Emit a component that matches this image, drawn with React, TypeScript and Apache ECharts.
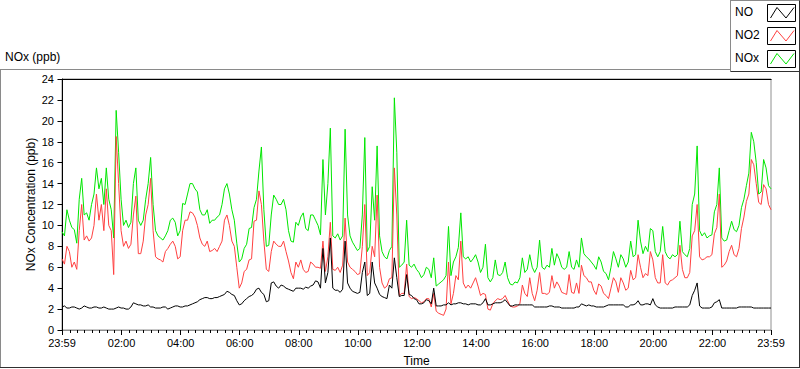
import React, { useEffect, useRef } from "react";
import * as echarts from "echarts";

// NOx (green), NO2 (red), NO (black) in ppb, one reading every 5 minutes from 23:59 to 23:59
const NOX = [
  9.4, 9.0, 11.5, 10.5, 9.8, 9.6, 8.3, 12.5, 14.5, 11.0, 11.2, 10.5,
  12.0, 13.0, 15.5, 13.5, 14.5, 12.0, 15.5, 12.5, 11.5, 8.8, 21.0, 17.0,
  12.5, 10.0, 10.5, 9.8, 10.3, 14.0, 15.5, 10.5, 10.0, 10.5, 12.5, 14.0,
  16.5, 12.0, 9.5, 9.0, 8.8, 8.6, 9.0, 9.5, 10.5, 10.7, 10.3, 9.0,
  9.5, 12.1, 12.0, 13.0, 14.0, 14.0, 13.5, 13.2, 11.5, 11.0, 11.0, 11.5,
  10.2, 10.5, 10.5, 10.8, 11.0, 12.0, 13.5, 14.0, 13.0, 11.5, 10.5, 8.3,
  6.5, 6.8, 7.8, 8.2, 9.7, 9.8, 11.7, 12.5, 15.2, 17.5, 11.5, 8.0,
  8.1, 11.0, 12.9, 12.5, 12.0, 12.0, 12.5, 11.5, 9.5, 8.5, 8.4, 10.3,
  10.0, 10.8, 11.2, 9.7, 9.5, 11.0, 11.0, 10.5, 10.0, 9.1, 16.3, 11.0,
  14.0, 19.3, 9.0, 8.8, 9.2, 8.6, 9.0, 19.2, 11.0, 9.0, 8.4, 8.0,
  7.6, 7.8, 11.0, 18.4, 7.5, 8.0, 13.7, 10.5, 17.6, 9.0, 7.5, 7.0,
  6.8, 7.6, 8.0, 22.2, 17.0, 6.0, 6.2, 6.5, 10.5, 6.2, 6.0, 6.3,
  5.8, 5.5, 5.0, 5.3, 6.0, 5.8, 5.0, 6.9, 4.2, 4.4, 4.6, 4.8,
  5.2, 9.9, 5.2, 6.5, 7.0, 7.9, 11.2, 7.0, 6.8, 7.0, 6.5, 6.8,
  7.2, 6.5, 5.5, 6.0, 8.2, 5.0, 4.6, 5.0, 6.7, 5.3, 5.2, 5.5,
  6.5, 5.0, 4.4, 4.3, 4.6, 4.5, 5.0, 6.9, 5.5, 5.8, 7.2, 6.0,
  5.5, 6.0, 8.6, 6.0, 5.8, 6.2, 6.0, 7.8, 6.2, 7.3, 6.8, 6.0,
  5.8, 6.0, 7.5, 6.0, 5.8, 6.7, 6.0, 8.8, 7.3, 7.0, 6.8, 6.5,
  6.2, 5.8, 7.0, 6.5, 5.6, 5.4, 4.8, 6.0, 7.5, 6.8, 6.0, 7.2,
  6.8, 6.0, 6.5, 8.5, 7.0, 7.2, 10.5, 8.5, 7.3, 8.0, 7.5, 9.7,
  9.5, 7.5, 7.0, 7.5, 9.9, 7.5, 7.0, 6.8, 7.2, 7.0, 7.2, 10.4,
  7.5, 7.2, 7.0, 7.8, 12.0, 13.0, 17.6, 9.5, 9.0, 9.3, 8.8, 9.0,
  9.1, 11.3, 12.0, 15.5, 8.8, 8.5, 8.6, 9.5, 10.4, 9.6, 9.4, 10.0,
  11.7, 12.5, 13.8, 15.0, 18.9, 18.0, 16.0, 13.0, 13.2, 16.3, 15.5, 13.8,
  13.5,
];
const NO2 = [
  6.8, 6.3, 8.0, 7.5, 6.0, 6.5, 5.8, 9.5, 12.0, 8.6, 9.0, 8.5,
  8.8, 10.0, 13.0, 10.5, 12.0, 9.5, 13.5, 10.0, 9.5, 5.3, 18.5, 14.0,
  9.5, 8.0, 8.5, 7.8, 8.2, 11.0, 12.8, 7.3, 7.3, 8.5, 11.0, 12.0,
  14.5, 9.5, 7.0, 6.8, 6.7, 6.5, 7.5, 7.8, 8.2, 8.5, 8.0, 6.8,
  7.0, 9.5, 10.5, 10.5, 11.3, 11.2, 10.8, 10.0, 8.8, 8.2, 8.0, 8.5,
  7.5, 7.6, 7.8, 7.5, 8.0, 8.5, 10.5, 11.0, 10.0, 8.5, 8.0, 6.0,
  4.0, 4.5, 5.6, 5.8, 6.7, 6.8, 10.4, 10.5, 13.3, 12.0, 8.5, 5.8,
  5.6, 7.5, 8.5, 8.2, 8.0, 8.0, 8.5, 7.5, 6.6, 5.5, 4.9, 6.5,
  6.0, 6.7, 5.8, 5.5, 5.6, 6.5, 6.3, 6.0, 6.0, 5.9, 8.5, 5.6,
  7.0, 10.3, 5.8, 5.7, 6.0, 5.5, 6.2, 10.7, 6.5, 6.0, 5.8, 5.6,
  5.3, 5.4, 8.0, 12.0, 5.2, 5.5, 8.0, 7.0, 12.9, 6.0, 4.5, 4.0,
  4.2, 4.9, 5.0, 15.5, 11.0, 3.3, 3.5, 3.5, 6.3, 3.2, 3.0, 3.1,
  3.0, 2.8, 2.6, 2.7, 3.0, 3.0, 2.2, 3.5, 1.8, 1.6, 1.5, 1.4,
  2.0, 6.5, 2.5, 3.5, 5.2, 4.8, 8.5, 4.5, 4.0, 4.3, 4.0, 4.5,
  5.0, 4.2, 3.3, 3.5, 3.4, 2.0, 1.9, 2.5, 2.8, 3.0, 2.9, 3.0,
  3.3, 2.8, 2.3, 2.2, 2.2, 2.3, 2.5, 4.3, 3.5, 3.2, 5.0, 3.5,
  2.8, 3.8, 5.5, 3.5, 3.5, 3.4, 3.6, 5.2, 4.0, 4.6, 4.2, 3.6,
  3.5, 3.4, 5.3, 3.6, 3.5, 4.5, 3.5, 6.2, 5.2, 5.0, 4.6, 4.6,
  3.8, 3.4, 4.4, 4.2, 3.5, 3.3, 3.0, 4.0, 5.0, 4.6, 3.6, 5.0,
  4.5, 3.8, 4.0, 5.7, 4.8, 5.0, 7.2, 6.0, 5.0, 5.4, 5.2, 7.5,
  6.7, 5.0, 4.5, 4.5, 7.2, 4.5, 4.3, 4.7, 4.8, 5.0, 5.2, 8.1,
  5.8, 5.0, 5.0, 5.5, 9.0, 9.5, 12.0, 7.0, 6.7, 6.8, 7.0, 7.0,
  7.2, 9.2, 9.8, 13.0, 6.0, 6.2, 6.6, 7.5, 8.1, 7.2, 7.0, 7.8,
  9.7, 10.8, 12.3, 13.0, 16.3, 15.8, 14.0, 12.2, 12.0, 13.9, 13.5, 12.0,
  11.5,
];
const NO = [
  2.2, 2.3, 2.1, 2.1, 2.2, 2.2, 2.1, 2.0, 2.1, 2.3, 2.2, 2.1,
  2.1, 2.2, 2.2, 2.1, 2.1, 2.2, 2.1, 2.0, 2.0, 2.0, 2.1, 2.2,
  2.1, 2.1, 2.0, 2.0, 2.2, 2.6, 2.5, 2.4, 2.4, 2.3, 2.3, 2.4,
  2.2, 2.2, 2.1, 2.1, 2.1, 2.2, 2.2, 2.0, 2.1, 2.2, 2.3, 2.3,
  2.2, 2.2, 2.3, 2.3, 2.4, 2.5, 2.6, 2.7, 2.9, 3.0, 3.1, 3.1,
  3.0, 3.0, 3.1, 3.1, 3.2, 3.3, 3.4, 3.7, 3.6, 3.4, 3.3, 2.8,
  2.4, 2.5, 2.8, 3.0, 3.2, 3.3, 3.5, 3.9, 4.0, 3.6, 3.4, 2.7,
  2.8, 4.5, 4.6, 4.2, 4.0, 4.3, 4.2, 4.0, 3.9, 3.8, 3.7, 4.0,
  4.0, 4.0, 3.9, 4.1, 4.0, 4.2, 4.3, 4.7, 4.6, 4.0, 7.8, 4.5,
  5.5, 8.8, 4.0, 3.8, 3.8, 3.6, 3.9, 8.5, 4.5, 4.0, 3.7, 3.6,
  3.5, 3.6, 5.5, 6.5, 3.3, 3.5, 6.5, 4.5, 4.0, 3.4, 3.2, 3.1,
  3.0, 4.3, 4.0, 6.9, 5.0, 3.2, 3.3, 3.3, 5.3, 3.4, 3.3, 3.0,
  2.9, 2.5, 2.5, 2.6, 2.9, 2.8, 2.5, 4.0, 2.3, 2.3, 2.3, 2.4,
  2.4, 2.6, 2.4, 2.5, 2.5, 2.6, 2.6, 2.5, 2.5, 2.4, 2.5, 2.5,
  2.5, 2.4, 2.4, 2.6, 3.0, 2.4, 2.4, 2.5, 2.6, 2.6, 2.6, 2.7,
  2.9, 2.6, 2.3, 2.3, 2.4, 2.4, 2.4, 2.4, 2.4, 2.4, 2.4, 2.4,
  2.2, 2.2, 2.2, 2.2, 2.2, 2.2, 2.3, 2.3, 2.2, 2.2, 2.2, 2.1,
  2.1, 2.1, 2.1, 2.1, 2.1, 2.2, 2.2, 2.5, 2.4, 2.3, 2.4, 2.3,
  2.3, 2.2, 2.2, 2.2, 2.2, 2.3, 2.4, 2.4, 2.4, 2.4, 2.4, 2.4,
  2.4, 2.2, 2.2, 2.4, 2.4, 2.5, 2.8, 2.4, 2.4, 2.5, 2.5, 2.4,
  3.0, 2.4, 2.2, 2.1, 2.1, 2.1, 2.1, 2.1, 2.1, 2.2, 2.2, 2.2,
  2.2, 2.2, 2.2, 2.4, 3.3, 3.8, 4.5, 2.3, 2.1, 2.1, 2.1, 2.1,
  2.2, 2.6, 2.7, 2.9, 2.1, 2.1, 2.1, 2.1, 2.1, 2.1, 2.1, 2.2,
  2.2, 2.2, 2.2, 2.2, 2.2, 2.1, 2.1, 2.1, 2.1, 2.1, 2.1, 2.1,
  2.1,
];
// time of each reading, minutes after midnight (-1 = 23:59 of the day before)
const TIMES = NOX.map((_, i) => i * 5 - 1);
// labelled x ticks (minutes)
const X_LABEL_TICKS = [-1, 120, 240, 360, 480, 600, 720, 840, 960, 1080, 1200, 1320, 1439];
// minor x ticks every 15 minutes
const X_MINOR_TICKS: number[] = [];
for (let m = 15; m < 1440; m += 15) if (m % 120 !== 0) X_MINOR_TICKS.push(m);

const SERIES_NAMES = ["NO", "NO2", "NOx"];
const SERIES_COLORS = ["#000000", "#ff4040", "#00e600"];

const FONT = "'Liberation Sans', Arial, sans-serif";

function fmtTime(v: number): string {
  const m = ((Math.round(v) % 1440) + 1440) % 1440;
  const hh = Math.floor(m / 60);
  const mm = m % 60;
  return String(hh).padStart(2, "0") + ":" + String(mm).padStart(2, "0");
}

export default function App() {
  const ref = useRef<HTMLDivElement>(null);
  useEffect(() => {
    if (!ref.current) return;
    const chart = echarts.init(ref.current, undefined, { renderer: "svg" });

    const legendGraphics: any[] = [];
    SERIES_NAMES.forEach((name, i) => {
      const by = 4 + i * 23;
      legendGraphics.push({
        type: "text",
        left: 735,
        top: by + 8.5 - 7,
        style: { text: name, fill: "#000", font: `12px ${FONT}` },
      });
      legendGraphics.push({
        type: "rect",
        shape: { x: 767.5, y: by + 0.5, width: 28, height: 17 },
        style: { fill: "#fff", stroke: "#000", lineWidth: 1 },
      });
      legendGraphics.push({
        type: "polyline",
        shape: {
          points: [
            [770.5, by + 14],
            [777, by + 3.5],
            [786, by + 14],
            [794, by + 3.5],
          ],
        },
        style: { stroke: SERIES_COLORS[i], lineWidth: 1, fill: null },
      });
    });

    const series = [
      { name: "NOx", color: SERIES_COLORS[2], data: NOX },
      { name: "NO2", color: SERIES_COLORS[1], data: NO2 },
      { name: "NO", color: SERIES_COLORS[0], data: NO },
    ].map((s) => ({
      name: s.name,
      type: "line",
      showSymbol: false,
      symbol: "none",
      silent: true,
      lineStyle: { color: s.color, width: 1 },
      itemStyle: { color: s.color },
      data: TIMES.map((t, i) => [t, s.data[i]]),
    }));

    chart.setOption({
      animation: false,
      backgroundColor: "#ffffff",
      textStyle: { fontFamily: FONT },
      grid: {
        left: 62,
        right: 29,
        top: 79,
        bottom: 39,
        show: true,
        borderColor: "#909090",
        borderWidth: 1,
        outerBoundsMode: "none",
      },
      xAxis: [
        {
          type: "value",
          min: -1,
          max: 1439,
          position: "bottom",
          name: "Time",
          nameLocation: "middle",
          nameGap: 25,
          nameMoveOverlap: false,
          nameTextStyle: { color: "#000", fontSize: 12, fontFamily: FONT },
          axisLine: { show: true, lineStyle: { color: "#909090", width: 1 } },
          axisTick: {
            show: true,
            customValues: X_LABEL_TICKS,
            length: 5,
            lineStyle: { color: "#000", width: 1 },
          },
          axisLabel: {
            customValues: X_LABEL_TICKS,
            formatter: (v: number) => fmtTime(v),
            color: "#000",
            fontSize: 11,
            fontFamily: FONT,
            margin: 7,
            showMinLabel: true,
            showMaxLabel: true,
          },
          splitLine: { show: false },
        },
        {
          type: "value",
          min: -1,
          max: 1439,
          position: "bottom",
          axisLine: { show: false },
          axisTick: {
            show: true,
            customValues: X_MINOR_TICKS,
            length: 3,
            lineStyle: { color: "#000", width: 1 },
          },
          axisLabel: { show: false },
          splitLine: { show: false },
        },
      ],
      yAxis: {
        type: "value",
        min: 0,
        max: 24,
        interval: 2,
        name: "NOx Concentration (ppb)",
        nameLocation: "middle",
        nameRotate: 90,
        nameGap: 25,
        nameMoveOverlap: false,
        nameTextStyle: { color: "#000", fontSize: 12, fontFamily: FONT },
        axisLine: { show: true, lineStyle: { color: "#000", width: 1 } },
        axisTick: { show: true, length: 5, lineStyle: { color: "#000", width: 1 } },
        axisLabel: { color: "#000", fontSize: 11, fontFamily: FONT, margin: 8 },
        splitLine: { show: false },
      },
      series,
      graphic: [
        // outer frame
        { type: "line", shape: { x1: 0, y1: 69.5, x2: 730, y2: 69.5 }, style: { stroke: "#8a8a8a", lineWidth: 1 } },
        { type: "line", shape: { x1: 0.5, y1: 69.5, x2: 0.5, y2: 367.5 }, style: { stroke: "#8a8a8a", lineWidth: 1 } },
        { type: "line", shape: { x1: 0, y1: 367.5, x2: 800, y2: 367.5 }, style: { stroke: "#303030", lineWidth: 1 } },
        { type: "line", shape: { x1: 799.5, y1: 0, x2: 799.5, y2: 368 }, style: { stroke: "#303030", lineWidth: 1 } },
        // legend box
        { type: "line", shape: { x1: 730.5, y1: 0, x2: 730.5, y2: 71.5 }, style: { stroke: "#8a8a8a", lineWidth: 1 } },
        { type: "line", shape: { x1: 730.5, y1: 0.5, x2: 799.5, y2: 0.5 }, style: { stroke: "#8a8a8a", lineWidth: 1 } },
        { type: "line", shape: { x1: 730.5, y1: 71.5, x2: 799.5, y2: 71.5 }, style: { stroke: "#303030", lineWidth: 1 } },
        // plot top border (dark)
        { type: "line", shape: { x1: 62, y1: 79.5, x2: 771.5, y2: 79.5 }, style: { stroke: "#000", lineWidth: 1 } },
        // chart caption
        {
          type: "text",
          left: 5,
          top: 51,
          style: { text: "NOx (ppb)", fill: "#000", font: `12px ${FONT}` },
        },
        ...legendGraphics,
      ],
    });
    return () => chart.dispose();
  }, []);
  return (
    <div
      ref={ref}
      style={{ position: "fixed", left: 0, top: 0, width: 800, height: 369, background: "#fff" }}
    />
  );
}
